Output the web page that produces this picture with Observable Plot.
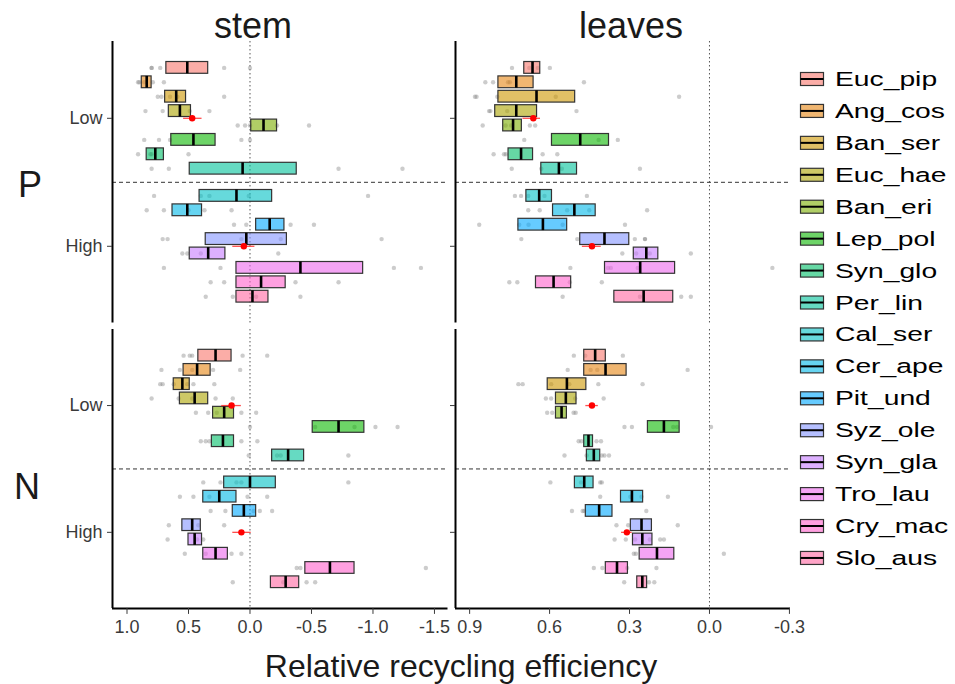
<!DOCTYPE html>
<html><head><meta charset="utf-8">
<script src="https://cdn.jsdelivr.net/npm/d3@7"></script>
<script src="https://cdn.jsdelivr.net/npm/@observablehq/plot@0.6"></script>
<style>
body{margin:0;background:#fff}
#chart{position:relative;width:955px;height:684px;font-family:"Liberation Sans",Arial,sans-serif;overflow:hidden}
</style>
</head><body><div id="chart"></div><script>
// ---------------- data ----------------
const species = ["Euc_pip","Ang_cos","Ban_ser","Euc_hae","Ban_eri","Lep_pol","Syn_glo","Per_lin",
                 "Cal_ser","Cer_ape","Pit_und","Syz_ole","Syn_gla","Tro_lau","Cry_mac","Slo_aus"];
const soil = ["Low","Low","Low","Low","Low","Low","Low","Low",
              "High","High","High","High","High","High","High","High"];
const levels = ["Low","High"];
const tissues = ["stem","leaves"];
const nutrients = ["P","N"];
const stemTicks = [1.0, 0.5, 0.0, -0.5, -1.0, -1.5];
const leavesTicks = [0.9, 0.6, 0.3, 0.0, -0.3];
const xTitle = "Relative recycling efficiency";

// boxes: [left edge, median, right edge]
const stemP_box = [[0.68,0.51,0.34],[0.88,0.84,0.80],[0.69,0.60,0.52],[0.66,0.57,0.48],[-0.01,-0.11,-0.22],
  [0.64,0.46,0.28],[0.84,0.77,0.70],[0.49,0.06,-0.38],[0.41,0.11,-0.18],[0.63,0.51,0.39],[-0.05,-0.16,-0.28],
  [0.36,0.03,-0.30],[0.49,0.34,0.20],[0.11,-0.41,-0.92],[0.11,-0.09,-0.29],[0.11,-0.02,-0.15]];
const stemP_pts = [[0.80,0.80,0.73,0.21,0.00],[0.91,0.90,0.86,0.79,0.70],[0.75,0.72,0.65,0.59,0.21],
  [0.85,0.71,0.49,0.33],[0.10,0.04,0.00,-0.22,-0.48],[0.86,0.74,0.65,0.07,0.00],[0.91,0.81,0.80,0.50],
  [0.80,0.66,-0.72,-1.24],[0.78,0.40,0.33,0.01,-0.96],[0.84,0.70,0.50,0.37,0.15],[0.13,0.03,-0.33,-0.52],
  [0.71,0.67,0.07,-0.25,-1.07],[0.55,0.51,0.40,-0.23],[0.70,0.24,-1.17,-1.39],[0.32,0.21,-0.37,-0.72],
  [0.36,0.14,-0.05,-0.41]];
const stemP_mean = [[0.47,0.54,0.39],[0.05,0.14,-0.04]];

const leavesP_box = [[0.695,0.664,0.635],[0.792,0.725,0.660],[0.792,0.649,0.504],[0.804,0.725,0.647],
  [0.774,0.737,0.704],[0.591,0.485,0.377],[0.754,0.707,0.662],[0.631,0.565,0.497],[0.687,0.639,0.591],
  [0.587,0.507,0.427],[0.717,0.625,0.534],[0.485,0.394,0.301],[0.284,0.237,0.192],[0.392,0.260,0.129],
  [0.651,0.585,0.519],[0.357,0.247,0.136]];
const leavesP_pts = [[0.741,0.676,0.644,0.599],[0.841,0.812,0.756,0.749,0.471],[0.880,0.874,0.796,0.577,0.114],
  [0.827,0.822,0.759,0.499],[0.851,0.765,0.744,0.674,0.654],[0.695,0.416,0.344],[0.810,0.771,0.764,0.626,0.571],
  [0.742,0.631,0.554,0.261],[0.730,0.707,0.680,0.619,0.460],[0.680,0.637,0.534,0.451,0.234],
  [0.864,0.714,0.679,0.551,0.317],[0.706,0.496,0.280,0.242,0.242],[0.327,0.275,0.224,0.070],
  [0.522,0.381,0.370,0.269,-0.236],[0.751,0.721,0.524,0.404],[0.551,0.261,0.106,0.070]];
const leavesP_mean = [[0.661,0.700,0.634],[0.441,0.477,0.406]];

const stemN_box = [[0.42,0.28,0.15],[0.54,0.43,0.32],[0.62,0.55,0.49],[0.57,0.45,0.34],[0.30,0.21,0.13],
  [-0.51,-0.72,-0.93],[0.31,0.22,0.13],[-0.18,-0.31,-0.44],[0.21,0.00,-0.21],[0.38,0.25,0.11],[0.14,0.05,-0.05],
  [0.55,0.47,0.40],[0.50,0.45,0.39],[0.38,0.28,0.18],[-0.45,-0.65,-0.85],[-0.17,-0.29,-0.40]];
const stemN_pts = [[0.54,0.49,0.47,0.06,-0.14],[0.72,0.57,0.47,0.30,0.08],[0.73,0.71,0.62,0.51,0.46,0.29],
  [0.80,0.58,0.47,0.28,0.14],[0.44,0.34,0.27,0.07,-0.05],[0.00,-0.53,-0.85,-1.02,-1.20],[0.40,0.36,0.33,0.07,-0.06],
  [0.01,-0.22,-0.25,-0.80],[0.38,0.24,0.11,0.07,-0.80],[0.57,0.46,0.33,0.02,-0.14],[0.32,0.20,-0.03,-0.08,-0.18],
  [0.66,0.42,0.21],[0.67,0.43,0.38],[0.53,0.36,0.15,0.07],[-0.38,-0.41,-1.43],[0.14,-0.27,-0.46,-0.53]];
const stemN_mean = [[0.15,0.23,0.07],[0.07,0.14,-0.01]];

const leavesN_box = [[0.470,0.429,0.389],[0.470,0.390,0.311],[0.607,0.535,0.462],[0.576,0.539,0.499],
  [0.576,0.555,0.535],[0.231,0.171,0.112],[0.470,0.454,0.437],[0.460,0.434,0.410],[0.505,0.470,0.435],
  [0.332,0.291,0.249],[0.464,0.414,0.364],[0.295,0.255,0.216],[0.287,0.252,0.214],[0.262,0.197,0.132],
  [0.389,0.347,0.306],[0.271,0.252,0.234]];
const leavesN_pts = [[0.509,0.466,0.325],[0.532,0.446,0.421,0.082],[0.717,0.701,0.594,0.526,0.417,0.251],
  [0.614,0.594,0.504,0.397],[0.609,0.590,0.510,0.502],[0.319,0.291,0.136,0.122,-0.006],[0.491,0.481,0.424,0.407],
  [0.544,0.461,0.404,0.394,0.377],[0.597,0.482,0.410,0.404],[0.410,0.297,0.255,0.156],[0.516,0.476,0.470,0.237],
  [0.349,0.305,0.119],[0.356,0.314,0.279,0.224,0.185,0.171],[0.284,0.276,-0.054],[0.434,0.402,0.309,0.199],
  [0.320,0.227,0.207]];
const leavesN_mean = [[0.441,0.464,0.417],[0.310,0.330,0.290]];

// ---------------- styling / layout ----------------
const palette = ["#F8766D","#E68613","#CD9600","#ABA300","#7CAE00","#0CB702","#00BE67","#00C19A",
                 "#00BFC4","#00B8E7","#00A9FF","#8494FF","#C77CFF","#ED68ED","#FF61CC","#FF68A1"];
const FONT = "'Liberation Sans', Arial, sans-serif";
const stemDomain = [1.118, -1.61];
const leavesDomain = [0.953, -0.304];
const yDomain = [0.4, 2.6];
const dodgeW = 0.9 / 8;
const bh = 0.046;

// dodge position of each species inside its soil group
const within = {};
const ypos = species.map((s, i) => {
  const g = soil[i];
  within[g] = (within[g] ?? -1) + 1;
  return levels.indexOf(g) + 1 + (within[g] - 3.5) * dodgeW;
});

const chart = document.getElementById("chart");
const mL = 80, mR = 10, mT = 5, mB = 45;

function panel(box, pts, means, xDomain, xTicks, opt) {
  const boxData = box.map((b, i) => ({i, left: b[0], med: b[1], right: b[2], y: ypos[i], col: palette[i]}));
  const ptData = pts.flatMap((arr, i) => arr.map(v => ({i, v, y: ypos[i]})));
  const meanData = means.map((m, k) => ({y: k + 1, m: m[0], lo: m[1], hi: m[2]}));
  const marks = [
    Plot.ruleX([0], {stroke: "#555", strokeWidth: 1, strokeDasharray: "1.5,2.5"}),
    Plot.ruleY([1.5], {stroke: "#333", strokeWidth: 1, strokeDasharray: "4,3"}),
    Plot.dot(ptData, {x: "v", y: "y", r: 2.2, fill: "#808080", fillOpacity: 0.4, stroke: null}),
    Plot.rect(boxData, {x1: "left", x2: "right", y1: d => d.y - bh, y2: d => d.y + bh,
      fill: "col", fillOpacity: 0.6, stroke: "#333", strokeWidth: 1.2}),
    Plot.ruleX(boxData, {x: "med", y1: d => d.y - bh, y2: d => d.y + bh, stroke: "#000", strokeWidth: 2.6}),
    Plot.ruleY(meanData, {y: "y", x1: "lo", x2: "hi", stroke: "#ff3030", strokeOpacity: 0.85, strokeWidth: 1.3}),
    Plot.dot(meanData, {x: "m", y: "y", r: 3.2, fill: "#ff0000", stroke: null}),
    Plot.ruleX([xDomain[0]], {stroke: "#000", strokeWidth: 2}),
    Plot.axisY({ticks: [1, 2], tickFormat: opt.ylabels ? (d => levels[d - 1]) : (() => ""),
      tickSize: 5, tickPadding: 5, fontSize: 18, color: "#3a3a3a", label: null})
  ];
  if (opt.xaxis) {
    marks.push(Plot.ruleY([yDomain[1]], {stroke: "#000", strokeWidth: 2}));
    marks.push(Plot.axisX({ticks: xTicks, tickFormat: d => d.toFixed(1), tickSize: 6, tickPadding: 6,
      fontSize: 18, color: "#3a3a3a", label: null}));
  }
  const w = opt.right - opt.left, h = opt.bottom - opt.top;
  const svg = Plot.plot({
    width: w + mL + mR, height: h + mT + mB,
    marginLeft: mL, marginRight: mR, marginTop: mT, marginBottom: mB,
    x: {domain: xDomain, axis: null},
    y: {domain: yDomain, reverse: true, axis: null},
    color: {type: "identity"},
    style: {background: "transparent", overflow: "visible", fontFamily: FONT},
    marks
  });
  svg.style.position = "absolute";
  svg.style.left = (opt.left - mL) + "px";
  svg.style.top = (opt.top - mT) + "px";
  chart.appendChild(svg);
}

const colX = {stem: [111.5, 447], leaves: [455, 790]};
const rowY = {P: [41.2, 322.8], N: [328.6, 607.5]};

panel(stemP_box, stemP_pts, stemP_mean, stemDomain, stemTicks,
  {left: colX.stem[0], right: colX.stem[1], top: rowY.P[0], bottom: rowY.P[1], ylabels: true, xaxis: false});
panel(leavesP_box, leavesP_pts, leavesP_mean, leavesDomain, leavesTicks,
  {left: colX.leaves[0], right: colX.leaves[1], top: rowY.P[0], bottom: rowY.P[1], ylabels: false, xaxis: false});
panel(stemN_box, stemN_pts, stemN_mean, stemDomain, stemTicks,
  {left: colX.stem[0], right: colX.stem[1], top: rowY.N[0], bottom: rowY.N[1], ylabels: true, xaxis: true});
panel(leavesN_box, leavesN_pts, leavesN_mean, leavesDomain, leavesTicks,
  {left: colX.leaves[0], right: colX.leaves[1], top: rowY.N[0], bottom: rowY.N[1], ylabels: false, xaxis: true});

// ---------------- text overlay and legend ----------------
const ov = d3.select(chart).append("svg")
  .attr("width", 955).attr("height", 684)
  .style("position", "absolute").style("left", "0px").style("top", "0px")
  .style("font-family", FONT).style("pointer-events", "none");

ov.append("text").attr("x", 253).attr("y", 38).attr("text-anchor", "middle")
  .attr("font-size", 36).attr("fill", "#1a1a1a").text(tissues[0]);
ov.append("text").attr("x", 631).attr("y", 38).attr("text-anchor", "middle")
  .attr("font-size", 36).attr("fill", "#1a1a1a").text(tissues[1]);
ov.append("text").attr("x", 30).attr("y", 197).attr("text-anchor", "middle")
  .attr("font-size", 36).attr("fill", "#1a1a1a").text(nutrients[0]);
ov.append("text").attr("x", 27).attr("y", 499).attr("text-anchor", "middle")
  .attr("font-size", 36).attr("fill", "#1a1a1a").text(nutrients[1]);
ov.append("text").attr("x", 461).attr("y", 677).attr("text-anchor", "middle")
  .attr("font-size", 32).attr("fill", "#1a1a1a").text(xTitle);

const lg = ov.append("g");
species.forEach((s, i) => {
  const cy = 79 + i * 31.93;
  lg.append("rect").attr("x", 800.5).attr("y", cy - 6.5).attr("width", 23).attr("height", 13)
    .attr("fill", palette[i]).attr("fill-opacity", 0.6).attr("stroke", "#333").attr("stroke-width", 1.2);
  lg.append("line").attr("x1", 800.5).attr("x2", 823.5).attr("y1", cy).attr("y2", cy)
    .attr("stroke", "#000").attr("stroke-width", 2);
  lg.append("text").attr("transform", `translate(835,${cy + 7}) scale(1.45,1)`)
    .attr("font-size", 19.5).attr("fill", "#000").text(s);
});
</script></body></html>
